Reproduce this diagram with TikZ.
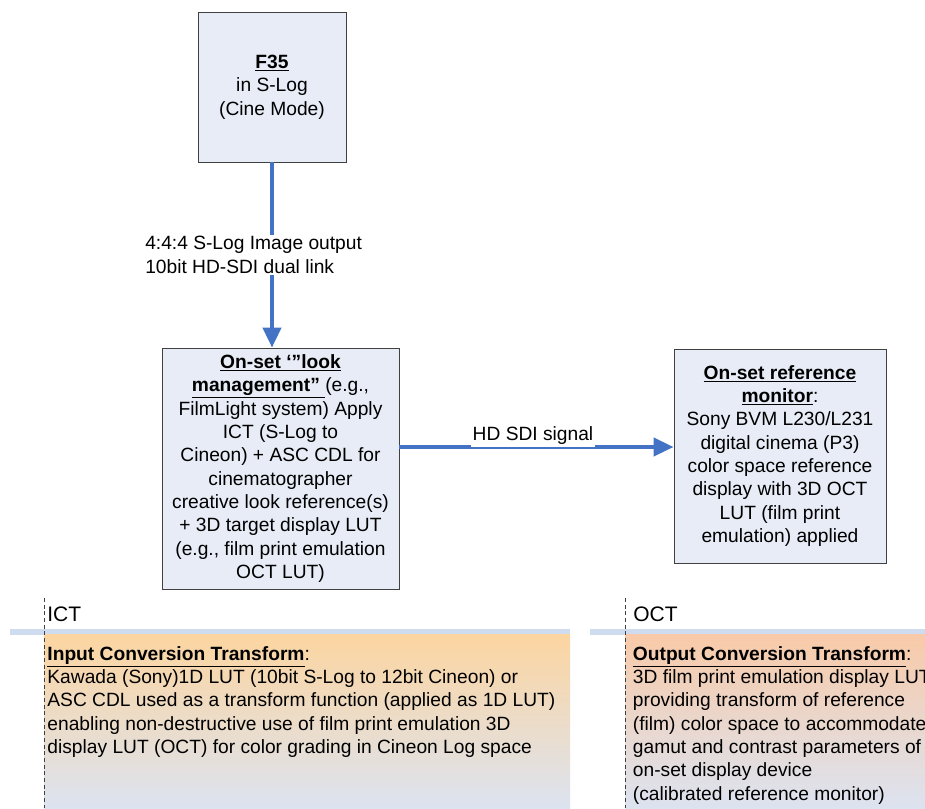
\documentclass[tikz,border=0pt]{standalone}
\usepackage{fontspec}
\setmainfont{Liberation Sans}
\usetikzlibrary{arrows.meta,positioning,calc}
\definecolor{BoxFill}{HTML}{E7ECF6}
\definecolor{BoxLine}{HTML}{404040}
\definecolor{ArrBlue}{HTML}{4472C4}
\definecolor{BandBlue}{HTML}{CFDBEE}
\definecolor{IctTop}{HTML}{FCD5A0}
\definecolor{OctTop}{HTML}{F8CAA8}
\definecolor{LaneBot}{HTML}{DCE3F0}

\begin{document}
\begin{tikzpicture}[x=0.75pt,y=-0.75pt,
  every node/.style={font=\fontsize{14.4}{17.5}\selectfont},
  box/.style={draw=BoxLine,fill=BoxFill,align=center,inner sep=0pt,line width=0.6pt},
  arr/.style={-{Triangle[length=15pt,width=13.5pt]},ArrBlue,line width=3pt},
  lbl/.style={fill=white,align=left,inner sep=1.5pt},
  band/.style={BandBlue,line width=4pt},
  lane/.style={densely dashed,BoxLine,line width=0.6pt},
  lanetitle/.style={anchor=west,inner sep=0pt,font=\fontsize{15.75}{18}\selectfont},
  lanetext/.style={anchor=north west,align=left,inner xsep=2pt,inner ysep=0pt}
]
\useasboundingbox (0,0) rectangle (925,808);
\clip (0,0) rectangle (925,808);

% boxes
\node[box,minimum width=111pt,minimum height=112.5pt] (f35) at (272,87)
  {\underline{\textbf{F35}}\\in S-Log\\(Cine Mode)};
\node[box,minimum width=177.75pt,minimum height=180.75pt] (look) at (280.5,468.5)
  {\underline{\textbf{On-set ‘”look}}\\
   \underline{\textbf{management”\ }}(e.g.,\\
   FilmLight system) Apply\\
   ICT (S-Log to\\
   Cineon) + ASC CDL for\\
   cinematographer\\
   creative look reference(s)\\
   + 3D target display LUT\\
   (e.g., film print emulation\\
   OCT LUT)};
\node[box,minimum width=159pt,minimum height=160.5pt] (mon) at (780,456)
  {\underline{\textbf{On-set reference}}\\
   \underline{\textbf{monitor}}:\\
   Sony BVM L230/L231\\
   digital cinema (P3)\\
   color space reference\\
   display with 3D OCT\\
   LUT (film print\\
   emulation) applied};

% connectors
\draw[arr] (f35.south) -- (f35.south |- look.north);
\node[lbl,anchor=west] (slog) at (143,255) {4:4:4 S-Log Image output\\10bit HD-SDI dual link};
\coordinate (hd) at (0,447);
\draw[arr] (look.east |- hd) -- (mon.west |- hd);
\node[lbl] (hdsdi) at (533,436) {HD SDI signal};

% ICT lane
\draw[band] (10,632) -- (570,632);
\shade[top color=IctTop,bottom color=LaneBot] (44,634) rectangle (570,808);
\draw[lane] (44,598) -- (44,808);
\node[lanetitle] (ict) at (47,614.5) {ICT};
\node[lanetext] (icttext) at (44.5,646)
  {\underline{\textbf{Input Conversion Transform}}:\\
   Kawada (Sony)1D LUT (10bit S-Log to 12bit Cineon) or\\
   ASC CDL used as a transform function (applied as 1D LUT)\\
   enabling non-destructive use of film print emulation 3D\\
   display LUT (OCT) for color grading in Cineon Log space};

% OCT lane
\draw[band] (590,632) -- (925,632);
\shade[top color=OctTop,bottom color=LaneBot] (625,634) rectangle (925,808);
\draw[lane] (625,598) -- (625,808);
\node[lanetitle] (oct) at (633,614.5) {OCT};
\node[lanetext] (octtext) at (630,646)
  {\underline{\textbf{Output Conversion Transform}}:\\
   3D film print emulation display LUT\\
   providing transform of reference\\
   (film) color space to accommodate\\
   gamut and contrast parameters of\\
   on-set display device\\
   (calibrated reference monitor)};
\end{tikzpicture}
\end{document}
